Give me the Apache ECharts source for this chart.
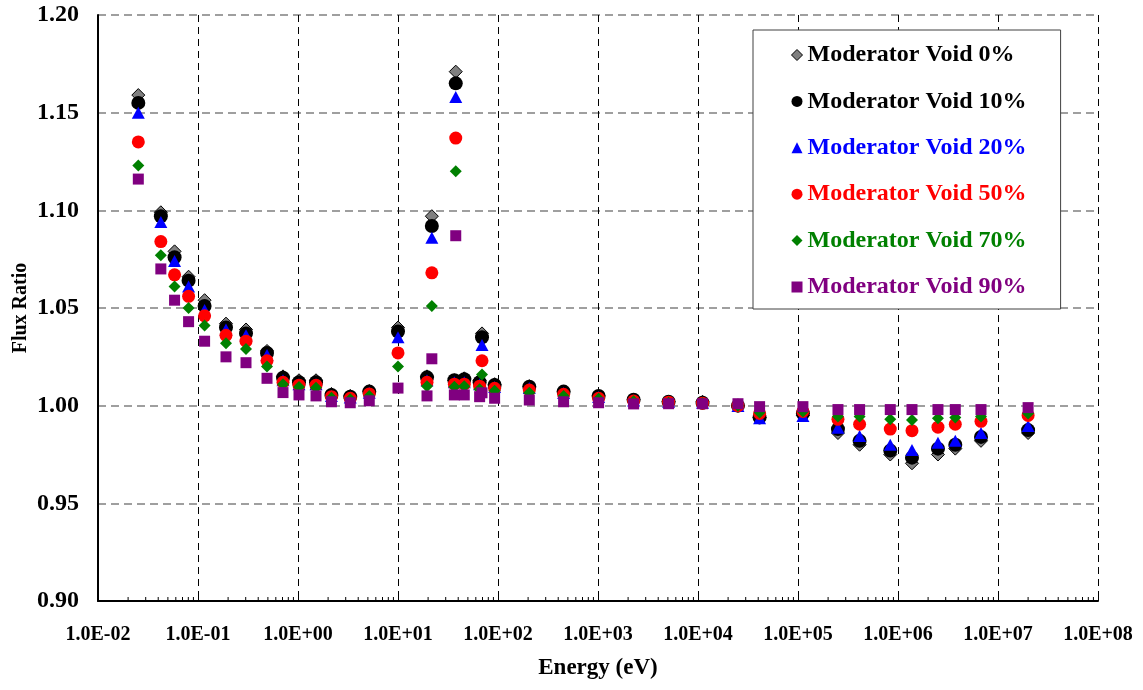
<!DOCTYPE html>
<html>
<head>
<meta charset="utf-8">
<script src="https://cdn.jsdelivr.net/npm/echarts@6/dist/echarts.min.js"></script>
<style>
  html, body { margin: 0; padding: 0; background: #fff; }
  #chart { width: 1143px; height: 690px; }
</style>
</head>
<body>
<div id="chart"></div>
<script>
// Group energies (eV) shared by every void fraction
const energies = [
  0.0253, 0.0425, 0.0583, 0.0805, 0.1164, 0.1905, 0.302, 0.49, 0.708, 1.023,
  1.514, 2.16, 3.33, 5.16, 10.0, 19.5, 21.8, 36.6, 37.8, 46.0,
  65.5, 69.2, 92.5, 205.6, 453, 1014, 2270, 5080, 11100, 25100,
  41300, 112000, 251000, 413000, 837000, 1.38e6, 2.51e6, 3.74e6, 6.76e6, 2.0e7
];

// Flux ratio per moderator void fraction
const void0 = [
  1.159, 1.099, 1.079, 1.066, 1.054, 1.042, 1.039, 1.028, 1.015, 1.013,
  1.013, 1.006, 1.005, 1.0075, 1.040, 1.015, 1.097, 1.013, 1.171, 1.014,
  1.013, 1.037, 1.011, 1.010, 1.007, 1.005, 1.003, 1.002, 1.002, 1.000,
  0.994, 0.995, 0.986, 0.980, 0.975, 0.9705, 0.975, 0.978, 0.982, 0.986
];
const void10 = [
  1.155, 1.097, 1.076, 1.064, 1.051, 1.040, 1.037, 1.027, 1.0143, 1.012,
  1.012, 1.0055, 1.0046, 1.0072, 1.038, 1.0145, 1.092, 1.013, 1.165, 1.0135,
  1.012, 1.035, 1.0106, 1.0097, 1.0072, 1.005, 1.003, 1.002, 1.0015, 1.000,
  0.994, 0.996, 0.988, 0.982, 0.977, 0.9734, 0.978, 0.980, 0.984, 0.9875
];
const void20 = [
  1.150, 1.094, 1.074, 1.061, 1.049, 1.039, 1.036, 1.026, 1.013, 1.011,
  1.011, 1.005, 1.0042, 1.0066, 1.035, 1.013, 1.086, 1.012, 1.158, 1.012,
  1.011, 1.031, 1.0095, 1.009, 1.0065, 1.0045, 1.0027, 1.002, 1.0015, 0.9998,
  0.9935, 0.9947, 0.9887, 0.9845, 0.980, 0.9773, 0.981, 0.982, 0.986, 0.9896
];
const void50 = [
  1.135, 1.084, 1.067, 1.056, 1.046, 1.036, 1.033, 1.023, 1.012, 1.0105,
  1.0105, 1.0046, 1.0038, 1.006, 1.027, 1.012, 1.068, 1.011, 1.137, 1.011,
  1.010, 1.023, 1.0089, 1.008, 1.0058, 1.0038, 1.0024, 1.0018, 1.0013, 1.000,
  0.996, 0.997, 0.993, 0.9905, 0.988, 0.9872, 0.989, 0.9905, 0.992, 0.995
];
const void70 = [
  1.123, 1.077, 1.061, 1.050, 1.041, 1.032, 1.029, 1.020, 1.011, 1.0095,
  1.0092, 1.004, 1.0033, 1.005, 1.020, 1.010, 1.051, 1.0097, 1.120, 1.010,
  1.0084, 1.016, 1.0077, 1.0066, 1.005, 1.0036, 1.0022, 1.0015, 1.0012, 1.000,
  0.9965, 0.997, 0.9944, 0.9944, 0.993, 0.9927, 0.9935, 0.994, 0.9944, 0.996
];
const void90 = [
  1.116, 1.070, 1.054, 1.043, 1.033, 1.025, 1.022, 1.014, 1.0067, 1.0055,
  1.005, 1.002, 1.0015, 1.0025, 1.009, 1.005, 1.024, 1.0055, 1.087, 1.0055,
  1.0046, 1.0066, 1.0038, 1.0029, 1.002, 1.0015, 1.0009, 1.001, 1.001, 1.001,
  0.9995, 0.9995, 0.998, 0.998, 0.998, 0.998, 0.998, 0.998, 0.998, 0.999
];

const seriesNames = [
  'Moderator Void 0%', 'Moderator Void 10%', 'Moderator Void 20%',
  'Moderator Void 50%', 'Moderator Void 70%', 'Moderator Void 90%'
];
const seriesValues = [void0, void10, void20, void50, void70, void90];

// Axis ranges and tick positions
const xMin = 1e-2, xMax = 1e8;
const yMin = 0.90, yMax = 1.20, yStep = 0.05;
const minorTickValues = [];
for (let e = -2; e < 8; e++) {
  for (let m = 2; m <= 9; m++) minorTickValues.push(m * Math.pow(10, e));
}

const FONT = '"Liberation Serif", "Times New Roman", serif';
const styles = [
  { symbol: 'diamond', size: 13, color: '#808080', border: '#000000', bw: 1, text: '#000000' },
  { symbol: 'circle', size: 14, color: '#000000', border: null, bw: 0, text: '#000000' },
  { symbol: 'triangle', size: [13, 12], color: '#0000FF', border: null, bw: 0, text: '#0000FF' },
  { symbol: 'circle', size: 13, color: '#FF0000', border: null, bw: 0, text: '#FF0000' },
  { symbol: 'diamond', size: 12, color: '#008000', border: null, bw: 0, text: '#008000' },
  { symbol: 'rect', size: 11, color: '#800080', border: null, bw: 0, text: '#800080' }
];

function sciLabel(v) {
  const e = Math.round(Math.log10(v));
  const a = Math.abs(e);
  return '1.0E' + (e < 0 ? '-' : '+') + (a < 10 ? '0' + a : '' + a);
}

const series = seriesNames.map((name, i) => ({
  name: name,
  type: 'scatter',
  symbol: styles[i].symbol,
  symbolSize: styles[i].size,
  itemStyle: {
    color: styles[i].color,
    borderColor: styles[i].border || styles[i].color,
    borderWidth: styles[i].bw,
    opacity: 1
  },
  emphasis: { disabled: true },
  data: energies.map((e, k) => [e, seriesValues[i][k]]),
  z: 3 + i
}));

// Logarithmic minor ticks along the energy axis
series.push({
  type: 'custom',
  silent: true,
  z: 2,
  data: minorTickValues.map(v => [v, yMin]),
  renderItem: function (params, api) {
    const p = api.coord([api.value(0), api.value(1)]);
    return {
      type: 'line',
      shape: { x1: p[0], y1: p[1], x2: p[0], y2: p[1] - 4 },
      style: { stroke: '#000', lineWidth: 1 }
    };
  }
});

const chart = echarts.init(document.getElementById('chart'), null, { renderer: 'canvas' });
chart.setOption({
  animation: false,
  backgroundColor: '#ffffff',
  grid: { left: 98, right: 45, top: 15, bottom: 89, containLabel: false, outerBoundsMode: 'none' },
  xAxis: {
    type: 'log',
    logBase: 10,
    min: xMin,
    max: xMax,
    interval: 1,
    name: 'Energy (eV)',
    nameLocation: 'middle',
    nameGap: 56,
    nameTextStyle: { fontFamily: FONT, fontWeight: 'bold', fontSize: 23, color: '#000' },
    axisLine: { show: true, lineStyle: { color: '#000', width: 2 } },
    axisTick: { show: true, inside: true, length: 5, lineStyle: { color: '#000', width: 1 } },
    minorTick: { show: false },
    axisLabel: {
      formatter: sciLabel,
      margin: 24,
      hideOverlap: false,
      interval: 0,
      fontFamily: FONT, fontWeight: 'bold', fontSize: 20, color: '#000'
    },
    splitLine: { show: true, interval: 0, lineStyle: { color: '#000', width: 1, type: [7, 5] } }
  },
  yAxis: {
    type: 'value',
    min: yMin,
    max: yMax,
    interval: yStep,
    name: 'Flux Ratio',
    nameLocation: 'middle',
    nameGap: 67,
    nameMoveOverlap: false,
    nameTextStyle: { fontFamily: FONT, fontWeight: 'bold', fontSize: 20, color: '#000' },
    axisLine: { show: true, lineStyle: { color: '#000', width: 2 } },
    axisTick: { show: false },
    axisLabel: {
      formatter: v => v.toFixed(2),
      margin: 19,
      fontFamily: FONT, fontWeight: 'bold', fontSize: 24, color: '#000'
    },
    splitLine: { show: true, lineStyle: { color: '#808080', width: 1.5, type: [8, 5] } }
  },
  legend: {
    orient: 'vertical',
    left: 753,
    top: 30,
    padding: [13, 34, 10, 38],
    itemWidth: 11,
    itemHeight: 11,
    itemGap: 22.4,
    backgroundColor: '#ffffff',
    borderColor: '#404040',
    borderWidth: 1,
    selectedMode: false,
    textStyle: { fontFamily: FONT, fontWeight: 'bold', fontSize: 24, lineHeight: 24 },
    data: seriesNames.map((n, i) => ({
      name: n,
      icon: styles[i].symbol,
      itemStyle: {
        color: styles[i].color,
        borderColor: styles[i].border || styles[i].color,
        borderWidth: styles[i].bw
      },
      textStyle: { color: styles[i].text }
    }))
  },
  series: series
});
</script>
</body>
</html>
